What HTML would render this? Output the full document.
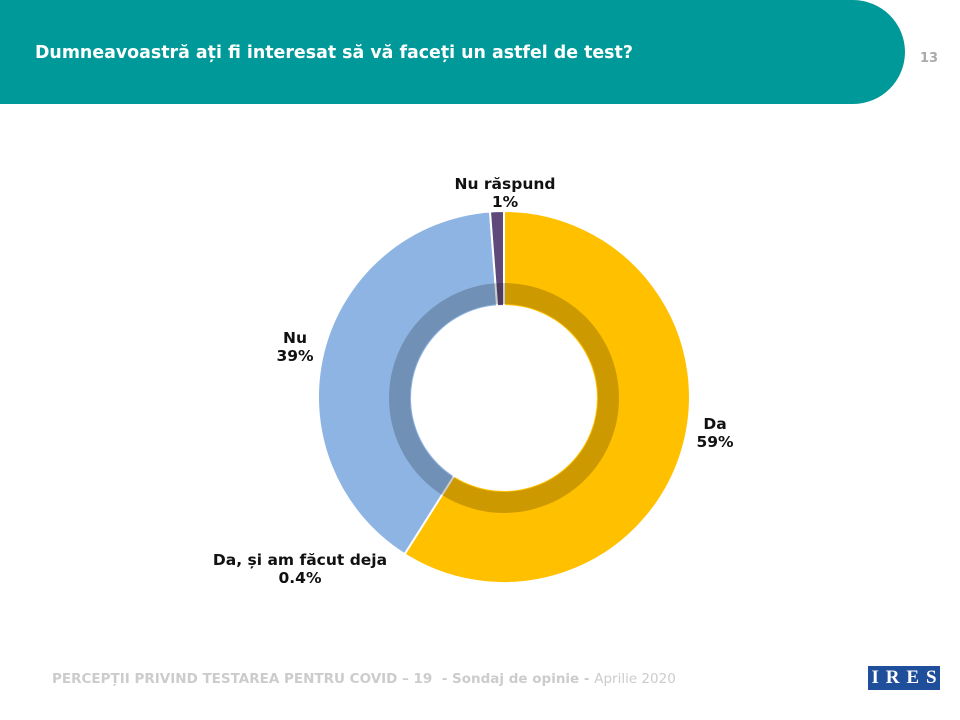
<!DOCTYPE html><html><head><meta charset="utf-8"><style>
body{margin:0;width:960px;height:720px;background:#fff;position:relative;overflow:hidden;font-family:"DejaVu Sans",sans-serif}
.hdr{position:absolute;left:0;top:0;width:905px;height:104px;background:#009999;border-radius:0 60px 60px 0}
.t{position:absolute;left:35px;top:43px;color:#fff;font-weight:bold;font-size:17.4px}
.lb{position:absolute;font-weight:bold;font-size:15.5px;color:#111;text-align:center;line-height:18px}
</style></head><body>
<div class="hdr"></div>
<div class="t">Dumneavoastră ați fi interesat să vă faceți un astfel de test?</div>
<div style="position:absolute;left:920px;top:51px;color:#aaa;font-size:13px;font-weight:bold">13</div>
<svg width="960" height="720" style="position:absolute;left:0;top:0">
<g transform="translate(504,397)" stroke="#fff" stroke-width="2">
<path d="M0,-186 A186,186 0 1,1 -104.5,153.9 L0,0Z" fill="#FFC000"/>
<path d="M-104.5,153.9 A186,186 0 0,1 -99.4,157.2 L0,0Z" fill="#385723" stroke-width="1"/>
<path d="M-99.4,157.2 A186,186 0 0,1 -14,-185.5 L0,0Z" fill="#8EB4E3"/>
<path d="M-14,-185.5 A186,186 0 0,1 0,-186 L0,0Z" fill="#5F497A"/>
</g>
<g transform="translate(504,398)">
<circle r="104.5" fill="none" stroke="#000" stroke-opacity="0.2" stroke-width="21"/>
<circle r="93" fill="#fff"/>
</g>
</svg>
<div class="lb" style="left:430px;top:175px;width:150px">Nu răspund<br>1%</div>
<div class="lb" style="left:270px;top:329px;width:50px">Nu<br>39%</div>
<div class="lb" style="left:690px;top:415px;width:50px">Da<br>59%</div>
<div class="lb" style="left:190px;top:551px;width:220px">Da, și am făcut deja<br>0.4%</div>
<div style="position:absolute;left:52px;top:671px;font-size:13.5px;color:#ccc;font-weight:bold;white-space:nowrap">PERCEPȚII PRIVIND TESTAREA PENTRU COVID – 19 &nbsp;- Sondaj de opinie - <span style="font-weight:normal">Aprilie 2020</span></div>
<div style="position:absolute;left:868px;top:666px;width:72px;height:24px;background:#1F4E9A;display:flex;justify-content:space-around;align-items:center;color:#fff;font-family:'Liberation Serif',serif;font-size:19px;font-weight:bold">
<span>I</span><span>R</span><span>E</span><span>S</span></div>
</body></html>
